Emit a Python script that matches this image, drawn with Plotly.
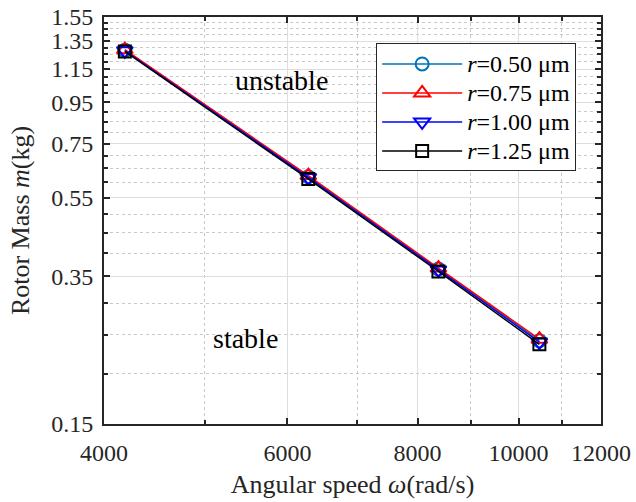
import plotly.graph_objects as go

omega = [4188.8, 6283.2, 8377.6, 10472.0]
series_names = ["<i>r</i>=0.50 μm", "<i>r</i>=0.75 μm", "<i>r</i>=1.00 μm", "<i>r</i>=1.25 μm"]
mass_050 = [1.280, 0.620, 0.365, 0.242]
mass_075 = [1.285, 0.624, 0.367, 0.244]
mass_100 = [1.277, 0.617, 0.363, 0.240]
mass_125 = [1.272, 0.612, 0.360, 0.237]

x_ticks = [4000, 6000, 8000, 10000, 12000]
x_minor = [5000, 7000, 9000, 11000]
y_ticks = [0.15, 0.35, 0.55, 0.75, 0.95, 1.15, 1.35, 1.55]
y_minor = [0.20, 0.25, 0.30, 0.40, 0.45, 0.50, 0.60, 0.65, 0.70, 0.80, 0.85, 0.90,
           1.00, 1.05, 1.10, 1.20, 1.25, 1.30, 1.40, 1.45, 1.50]

colors = ["#0072BD", "#FF0000", "#0000FF", "#000000"]
symbols = ["circle-open", "triangle-up-open", "triangle-down-open", "square-open"]
sizes = [13, 14, 14, 12]
all_mass = [mass_050, mass_075, mass_100, mass_125]

FONT = "Liberation Serif, Times New Roman, serif"

fig = go.Figure()
for name, m, c, s, sz in zip(series_names, all_mass, colors, symbols, sizes):
    fig.add_trace(go.Scatter(
        x=omega, y=m, name='<span style="font-size:24px">' + name + '</span>',
        mode="lines+markers",
        line=dict(color=c, width=1.5),
        marker=dict(symbol=s, size=sz, color=c, line=dict(color=c, width=2)),
    ))

axis_common = dict(
    showline=True, linecolor="#262626", linewidth=2, mirror="ticks",
    ticks="inside", ticklen=6, tickwidth=1.5, tickcolor="#262626",
    showgrid=True, gridcolor="#dedede", gridwidth=1,
    zeroline=False, automargin=False,
    tickfont=dict(family=FONT, size=24, color="#262626"),
)

fig.update_xaxes(
    type="log", range=[3.60206, 4.07918],
    tickmode="array", tickvals=x_ticks, ticktext=[str(v) for v in x_ticks],
    ticklabelstandoff=6,
    minor=dict(tickmode="array", tickvals=x_minor, ticks="inside", ticklen=4,
               tickcolor="#262626", showgrid=True, gridcolor="#c8c8c8",
               griddash="dot", gridwidth=1),
    title=dict(text="Angular speed <i>ω</i>(rad/s)", font=dict(family=FONT, size=26, color="#262626"), standoff=10),
    **axis_common,
)
fig.update_yaxes(
    type="log", range=[-0.82391, 0.19033],
    tickmode="array", tickvals=y_ticks, ticktext=[f"{v:.2f}" for v in y_ticks],
    ticklabelstandoff=4,
    minor=dict(tickmode="array", tickvals=y_minor, ticks="inside", ticklen=4,
               tickcolor="#262626", showgrid=True, gridcolor="#c8c8c8",
               griddash="dot", gridwidth=1),
    title=dict(text="Rotor Mass <i>m</i>(kg)", font=dict(family=FONT, size=26, color="#262626"), standoff=14),
    **axis_common,
)

fig.add_annotation(text="unstable", xref="paper", yref="paper", x=0.358, y=0.845,
                   xanchor="center", yanchor="middle",
                   showarrow=False, font=dict(family=FONT, size=28, color="#000000"))
fig.add_annotation(text="stable", xref="paper", yref="paper", x=0.284, y=0.211,
                   xanchor="center", yanchor="middle",
                   showarrow=False, font=dict(family=FONT, size=28, color="#000000"))

fig.update_layout(
    width=636, height=502,
    margin=dict(l=104, r=35, t=17, b=78, autoexpand=False),
    paper_bgcolor="white", plot_bgcolor="white",
    showlegend=True,
    legend=dict(x=0.95, y=0.935, xanchor="right", yanchor="top",
                bgcolor="white", bordercolor="#262626", borderwidth=1,
                font=dict(family=FONT, size=20, color="#000000"),
                itemwidth=80, tracegroupgap=0),
)

fig.write_html("out.html", config={"displayModeBar": False},
               post_script="document.body.style.margin='0';")
